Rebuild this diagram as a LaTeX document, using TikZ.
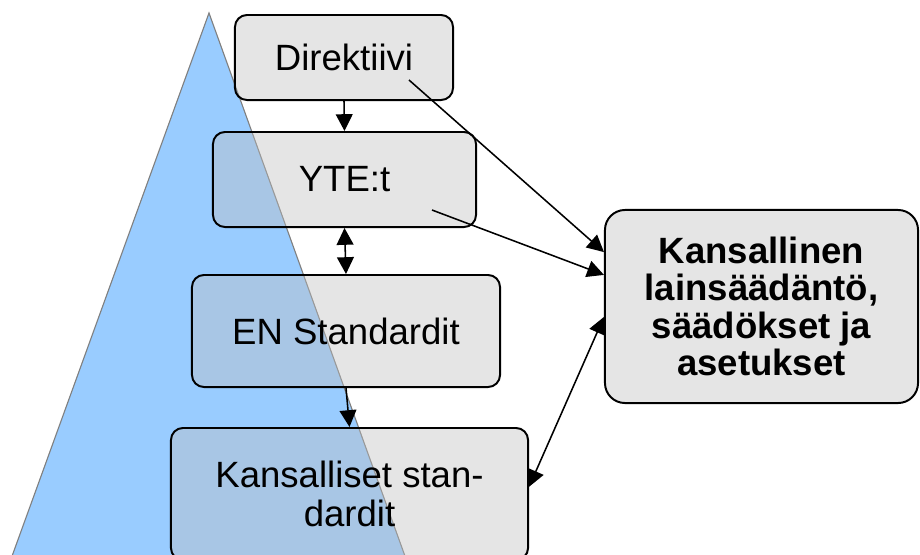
\documentclass[tikz,border=0pt]{standalone}
\usepackage{fontspec}
\setmainfont{Liberation Sans}
\usetikzlibrary{arrows.meta}

\definecolor{pyramid}{HTML}{99CCFF}
\tikzset{box/.style={draw,line width=1.4pt,rounded corners=0.3cm,fill=black!25,fill opacity=0.4,text opacity=1,inner sep=0pt,align=center,font=\fontsize{26}{27.7}\selectfont}}
\tikzset{earrow/.style={line width=1.1pt,-{Triangle[length=0.42cm,width=0.42cm]}}}
\tikzset{dearrow/.style={line width=1.1pt,{Triangle[length=0.42cm,width=0.42cm]}-{Triangle[length=0.42cm,width=0.42cm]}}}

\begin{document}
\begin{tikzpicture}[x=0.025cm,y=-0.025cm]
        \clip (0,0) rectangle (920,554);
        % draw the pyramid
        \draw[gray,line width=0.8pt,fill=pyramid] (209,13) -- (410,570) -- (7,570) -- cycle;

        % draw the boxes
        \node[box,minimum width=5.45cm,minimum height=2.125cm] (dir) at (344,57.5) {Direktiivi};
        \node[box,minimum width=6.575cm,minimum height=2.375cm] (yte) at (344.5,179.5) {YTE:t};
        \node[box,minimum width=7.7cm,minimum height=2.8cm] (en) at (346,331) {EN Standardit};
        \node[box,minimum width=8.925cm,minimum height=3.3cm] (kst) at (349.5,494) {Kansalliset stan-\\dardit};
        \node[box,rounded corners=0.5cm,minimum width=7.825cm,minimum height=4.825cm,font=\fontsize{26}{26.6}\selectfont\bfseries] (kl) at (761.5,306.5) {Kansallinen\\lainsäädäntö,\\säädökset ja\\asetukset};

        % draw the connectors
        \coordinate (dirtail) at (409,80);
        \coordinate (ytetail) at (432,210);
        \draw[earrow] (dir.south) -- (yte.north);
        \draw[dearrow] (yte.south) -- (en.north);
        \draw[earrow] (en.south) -- (kst.north);
        \draw[earrow] (dirtail) -- ([yshift=1.36cm]kl.west);
        \draw[earrow] (ytetail) -- ([yshift=0.79cm]kl.west);
        \draw[dearrow] ([yshift=0.18cm]kst.east) -- ([yshift=-0.26cm]kl.west);
    \end{tikzpicture}
\end{document}
